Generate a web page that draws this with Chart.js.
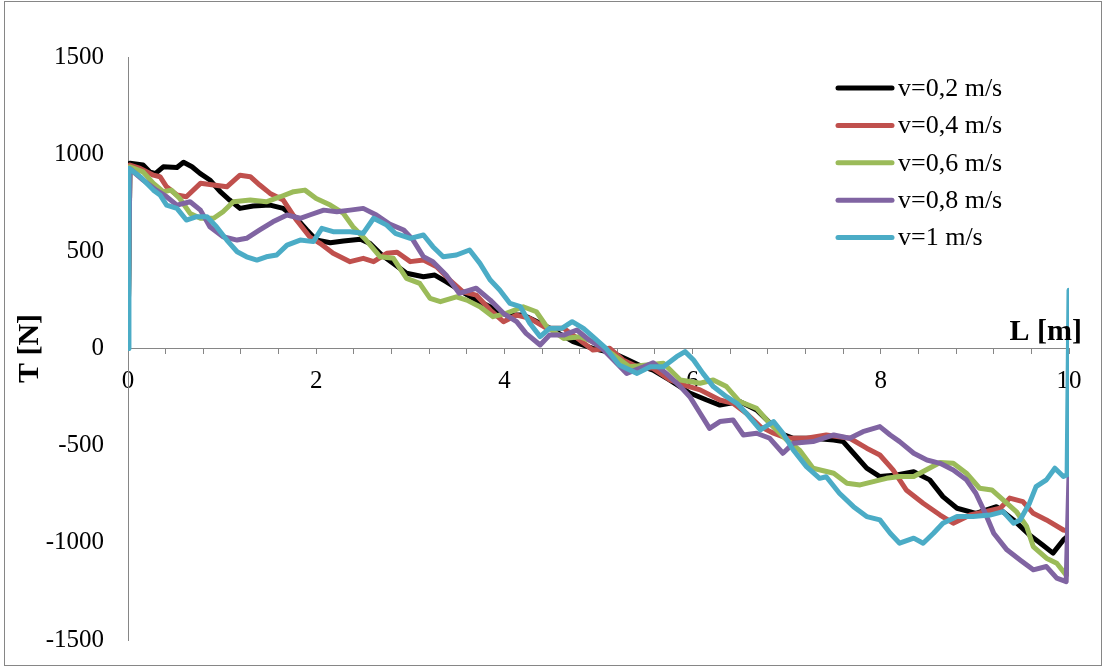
<!DOCTYPE html>
<html>
<head>
<meta charset="utf-8">
<script src="https://cdn.jsdelivr.net/npm/chart.js@4.4.1/dist/chart.umd.min.js"></script>
<style>
  body { margin: 0; background: #fff; }
  #marco { width: 1107px; height: 670px; }
</style>
</head>
<body>
<div id="marco"><canvas id="grafica" width="1107" height="670"></canvas></div>
<script>
// L [m] y T [N], una pareja de arreglos por velocidad
const etiquetas = ['v=0,2 m/s', 'v=0,4 m/s', 'v=0,6 m/s', 'v=0,8 m/s', 'v=1 m/s'];
const colores = ['#000000', '#C0504D', '#9BBB59', '#8064A2', '#4BACC6'];

const lV02 = [0, 0.02, 0.16, 0.23, 0.29, 0.375, 0.52, 0.59, 0.68, 0.765, 0.87, 0.98, 1.08, 1.19, 1.33, 1.51, 1.65, 1.79, 1.90, 2.0, 2.15, 2.29, 2.47, 2.57, 2.70, 2.82, 2.96, 3.14, 3.26, 3.38, 3.52, 3.70, 3.88, 4.02, 4.20, 4.38, 4.52, 4.73, 4.94, 5.16, 5.30, 5.45, 5.58, 5.75, 5.97, 6.15, 6.29, 6.50, 6.68, 6.79, 6.93, 7.07, 7.28, 7.50, 7.60, 7.71, 7.85, 7.99, 8.17, 8.35, 8.52, 8.66, 8.81, 9.01, 9.23, 9.41, 9.58, 9.72, 9.83, 9.94, 10];
const tV02 = [0, 953, 944, 909, 900, 935, 931, 958, 935, 901, 867, 807, 764, 721, 733, 738, 721, 670, 610, 558, 544, 553, 562, 541, 480, 438, 387, 369, 378, 344, 301, 249, 207, 172, 172, 130, 95, 35, 1, -25, -56, -90, -111, -160, -229, -265, -291, -273, -316, -368, -436, -462, -462, -471, -479, -539, -616, -659, -651, -634, -676, -762, -822, -848, -814, -882, -959, -1011, -1053, -985, -960];

const lV04 = [0, 0.02, 0.13, 0.27, 0.34, 0.41, 0.52, 0.62, 0.77, 0.91, 1.05, 1.19, 1.30, 1.40, 1.51, 1.65, 1.79, 1.93, 2.04, 2.18, 2.36, 2.50, 2.61, 2.75, 2.86, 3.0, 3.14, 3.28, 3.42, 3.56, 3.70, 3.85, 3.99, 4.13, 4.27, 4.45, 4.63, 4.80, 4.94, 5.12, 5.26, 5.41, 5.58, 5.76, 5.92, 6.08, 6.29, 6.43, 6.57, 6.72, 6.86, 7.0, 7.21, 7.42, 7.67, 7.85, 7.99, 8.13, 8.27, 8.45, 8.63, 8.77, 8.95, 9.12, 9.27, 9.37, 9.51, 9.62, 9.76, 9.94, 10];
const tV04 = [0, 944, 927, 892, 884, 832, 790, 781, 850, 841, 832, 892, 884, 841, 798, 764, 661, 575, 541, 490, 447, 464, 447, 490, 495, 447, 455, 421, 352, 292, 275, 198, 138, 172, 155, 104, 104, 44, -8, 1, -59, -94, -102, -162, -190, -213, -265, -282, -333, -402, -436, -462, -462, -445, -462, -513, -548, -625, -728, -796, -857, -899, -857, -839, -822, -770, -788, -848, -882, -934, -940];

const lV06 = [0, 0.02, 0.16, 0.27, 0.375, 0.46, 0.55, 0.66, 0.77, 0.91, 1.01, 1.12, 1.30, 1.47, 1.62, 1.76, 1.88, 2.0, 2.15, 2.29, 2.39, 2.53, 2.68, 2.82, 2.96, 3.10, 3.21, 3.32, 3.49, 3.60, 3.74, 3.88, 4.02, 4.20, 4.34, 4.45, 4.63, 4.80, 4.98, 5.16, 5.33, 5.51, 5.69, 5.87, 6.08, 6.22, 6.36, 6.50, 6.68, 6.82, 7.0, 7.14, 7.28, 7.50, 7.64, 7.78, 7.92, 8.06, 8.20, 8.35, 8.48, 8.63, 8.77, 8.91, 9.05, 9.18, 9.30, 9.44, 9.55, 9.62, 9.76, 9.87, 9.96, 10];
const tV06 = [0, 935, 909, 850, 807, 815, 772, 695, 670, 670, 704, 755, 764, 755, 781, 807, 815, 772, 738, 695, 627, 558, 472, 464, 361, 335, 258, 241, 266, 249, 215, 164, 181, 215, 189, 112, 52, 61, 27, -33, -94, -85, -76, -162, -179, -162, -196, -273, -308, -385, -471, -525, -616, -642, -693, -702, -685, -668, -659, -659, -625, -587, -591, -642, -719, -728, -779, -839, -916, -1019, -1079, -1105, -1160, -1160];

const lV08 = [0, 0.02, 0.16, 0.30, 0.41, 0.52, 0.66, 0.77, 0.87, 1.01, 1.16, 1.26, 1.40, 1.54, 1.69, 1.83, 1.93, 2.08, 2.22, 2.36, 2.50, 2.64, 2.78, 2.93, 3.03, 3.14, 3.24, 3.38, 3.52, 3.70, 3.85, 3.99, 4.13, 4.23, 4.38, 4.48, 4.63, 4.77, 4.90, 5.02, 5.16, 5.30, 5.48, 5.58, 5.72, 5.87, 5.97, 6.08, 6.18, 6.29, 6.43, 6.54, 6.68, 6.82, 6.96, 7.07, 7.28, 7.50, 7.67, 7.81, 7.99, 8.10, 8.20, 8.35, 8.49, 8.63, 8.77, 8.91, 9.01, 9.11, 9.20, 9.34, 9.48, 9.62, 9.76, 9.87, 9.97, 10];
const tV08 = [0, 925, 867, 815, 781, 738, 755, 712, 627, 575, 558, 567, 610, 652, 687, 670, 687, 712, 704, 712, 721, 687, 640, 610, 558, 472, 447, 378, 284, 310, 249, 181, 138, 78, 18, 69, 69, 95, 44, 9, -59, -128, -94, -73, -128, -196, -248, -333, -411, -376, -368, -445, -436, -462, -539, -488, -479, -445, -462, -428, -402, -445, -479, -539, -574, -591, -625, -676, -745, -848, -951, -1036, -1088, -1139, -1122, -1182, -1200, -650];

const lV1 = [0, 0.01, 0.13, 0.27, 0.34, 0.41, 0.52, 0.62, 0.73, 0.84, 0.94, 1.05, 1.16, 1.26, 1.37, 1.47, 1.58, 1.69, 1.83, 1.97, 2.06, 2.18, 2.36, 2.50, 2.61, 2.75, 2.84, 3.0, 3.14, 3.24, 3.35, 3.49, 3.63, 3.74, 3.85, 3.95, 4.06, 4.17, 4.27, 4.38, 4.48, 4.61, 4.72, 4.84, 4.94, 5.08, 5.22, 5.41, 5.55, 5.69, 5.83, 5.92, 6.01, 6.11, 6.22, 6.36, 6.47, 6.57, 6.72, 6.86, 6.96, 7.07, 7.21, 7.35, 7.42, 7.56, 7.71, 7.85, 7.99, 8.10, 8.20, 8.35, 8.45, 8.56, 8.66, 8.81, 8.98, 9.16, 9.30, 9.41, 9.48, 9.58, 9.65, 9.76, 9.85, 9.94, 9.98, 10];
const tV1 = [0, 927, 884, 815, 790, 738, 721, 661, 678, 678, 627, 558, 498, 472, 455, 472, 481, 532, 558, 550, 618, 601, 601, 593, 670, 635, 593, 567, 584, 524, 472, 481, 507, 438, 352, 301, 232, 215, 130, 61, 104, 104, 138, 104, 61, 1, -85, -128, -94, -94, -42, -16, -59, -128, -196, -248, -282, -333, -419, -376, -436, -522, -608, -668, -660, -745, -814, -865, -882, -951, -1002, -976, -1002, -951, -899, -865, -865, -857, -839, -899, -882, -796, -711, -676, -616, -659, -650, 300];

const ejeY = [-1500, 1500, 500];   // min, max, paso
const ejeX = [0, 10, 0.4];

const series = [[lV02, tV02], [lV04, tV04], [lV06, tV06], [lV08, tV08], [lV1, tV1]];

const fuente = "'Liberation Serif', 'Times New Roman', serif";
const gris = '#868686';

const extras = {
    id: 'extras',
    beforeDraw(chart) {
        const ctx = chart.ctx;
        ctx.save();
        ctx.fillStyle = '#fff';
        ctx.fillRect(0, 0, chart.width, chart.height);
        ctx.strokeStyle = gris;
        ctx.lineWidth = 1;
        ctx.strokeRect(4.5, 1.5, 1097, 664);
        ctx.restore();
    },
    afterDraw(chart) {
        const ctx = chart.ctx;
        const area = chart.chartArea;
        ctx.save();
        // leyenda
        const x0 = area.right - 231;
        const y0 = area.top + 31;
        chart.data.datasets.forEach((ds, i) => {
            const y = y0 + i * 37.4;
            ctx.strokeStyle = ds.borderColor;
            ctx.lineWidth = 5;
            ctx.lineCap = 'round';
            ctx.beginPath();
            ctx.moveTo(x0, y);
            ctx.lineTo(x0 + 54, y);
            ctx.stroke();
            ctx.fillStyle = '#000';
            ctx.font = '26px ' + fuente;
            ctx.textAlign = 'left';
            ctx.textBaseline = 'middle';
            ctx.fillText(ds.label, x0 + 60, y + 1);
        });
        // titulo del eje x
        ctx.font = 'bold 30px ' + fuente;
        ctx.textAlign = 'right';
        ctx.textBaseline = 'alphabetic';
        ctx.fillText('L [m]', area.right + 13, chart.scales.y.getPixelForValue(0) - 9);
        ctx.restore();
    }
};

new Chart(document.getElementById('grafica'), {
    type: 'line',
    data: {
        datasets: series.map((s, i) => ({
            label: etiquetas[i],
            data: s[0].map((l, k) => ({x: l, y: s[1][k]})),
            borderColor: colores[i],
            backgroundColor: colores[i],
            borderWidth: 5,
            borderJoinStyle: 'round',
            borderCapStyle: 'round',
            pointRadius: 0,
            tension: 0,
            fill: false,
            order: series.length - i
        }))
    },
    options: {
        responsive: false,
        animation: false,
        layout: { padding: { left: 0, right: 38, top: 57, bottom: 30 } },
        plugins: {
            legend: { display: false },
            tooltip: { enabled: false }
        },
        scales: {
            x: {
                type: 'linear',
                position: { y: 0 },
                min: ejeX[0],
                max: ejeX[1],
                ticks: {
                    stepSize: ejeX[2],
                    autoSkip: false,
                    maxRotation: 0,
                    padding: 13,
                    color: '#000',
                    font: { family: fuente, size: 25 },
                    callback: (v) => Math.abs(v / 2 - Math.round(v / 2)) < 1e-6 ? String(Math.round(v)) : ''
                },
                grid: { drawOnChartArea: false, drawTicks: true, tickLength: 5, color: gris },
                border: { color: gris },
                afterFit: (escala) => { escala.height = 0; }
            },
            y: {
                min: ejeY[0],
                max: ejeY[1],
                ticks: {
                    stepSize: ejeY[2],
                    padding: 24,
                    color: '#000',
                    font: { family: fuente, size: 25 },
                    callback: (v) => String(v)
                },
                grid: { drawOnChartArea: false, drawTicks: false, color: gris },
                border: { color: gris },
                title: {
                    display: true,
                    text: 'T [N]',
                    color: '#000',
                    font: { family: fuente, size: 30, weight: 'bold' },
                    padding: { top: 12, bottom: 0 }
                },
                afterFit: (escala) => {
                    escala.width = 128;
                    escala.paddingTop = 0;
                    escala.paddingBottom = 0;
                }
            }
        }
    },
    plugins: [extras]
});
</script>
</body>
</html>
